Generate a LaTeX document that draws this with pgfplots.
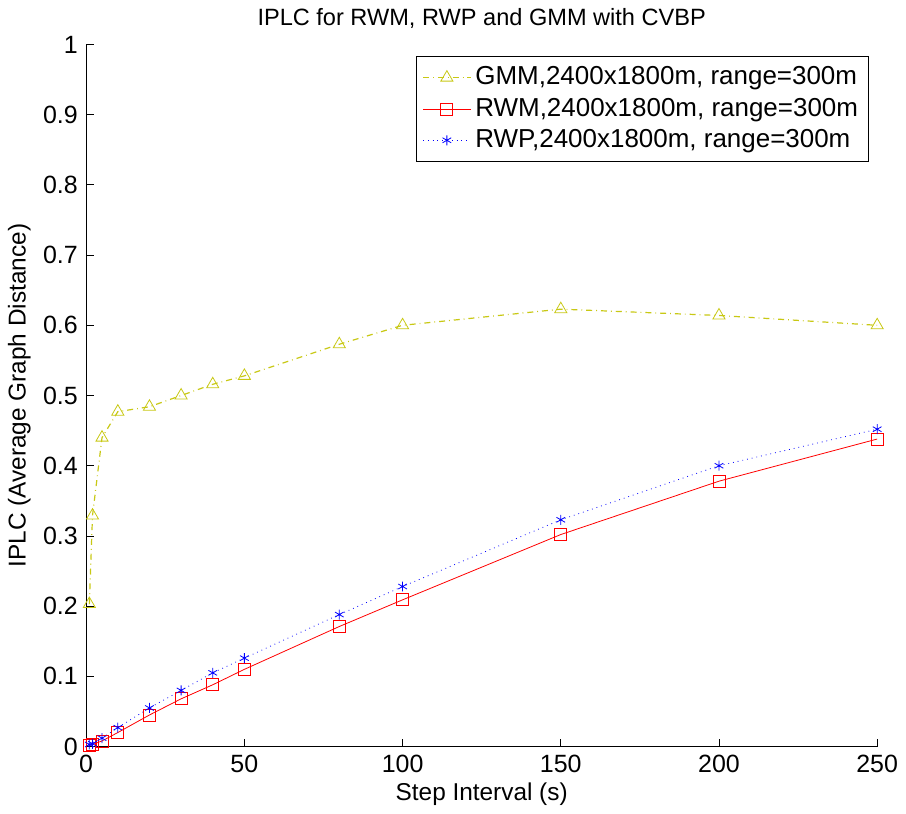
\documentclass[border=0pt]{standalone}
\usepackage{pgfplots}
\pgfplotsset{compat=1.18}
\usepackage{fontspec}
\setmainfont{Liberation Sans}
\definecolor{gmmyel}{RGB}{200,200,20}

\begin{document}
\fontsize{12}{14}\selectfont
\begin{tikzpicture}
\begin{axis}[
  scale only axis,
  width=396pt,height=351.5pt,
  xmin=0,xmax=250,ymin=0,ymax=1,
  xtick={0,50,...,250},
  ytick={0,0.1,...,1},
  axis lines*=left,
  tick align=inside,
  major tick length=4pt,
  every tick/.style={black,thin},
  axis line style={black,thin},
  /pgf/number format/assume math mode=true,
  tick label style={font=\fontsize{12.5}{14}\selectfont},
  title={IPLC for RWM, RWP and GMM with CVBP},
  title style={font=\fontsize{11.8}{13}\selectfont,yshift=-2pt},
  xlabel={Step Interval (s)},
  ylabel={IPLC (Average Graph Distance)},
  label style={font=\fontsize{12.2}{14}\selectfont},
  xlabel style={yshift=3pt},
  ylabel style={yshift=-2pt},
  legend style={at={(0.989,0.983)},anchor=north east,draw=black,thin,
    font=\fontsize{13}{15}\selectfont,row sep=0.8pt,inner sep=3pt},
  legend cell align=left,
  legend image code/.code={
    \draw[mark repeat=2,mark phase=2] plot coordinates {(0cm,0cm) (0.42cm,0cm) (0.84cm,0cm)};},
]
\addplot[gmmyel,dash dot,semithick,mark=triangle,mark size=3.5pt,mark options={solid,thin}] coordinates {
  (1,0.203)(2,0.329)(5,0.440)(10,0.477)(20,0.484)(30,0.500)(40,0.516)
  (50,0.528)(80,0.573)(100,0.600)(150,0.623)(200,0.614)(250,0.600)};
\addplot[red,solid,mark=square,mark size=3pt] coordinates {
  (1,0.002)(2,0.003)(5,0.008)(10,0.020)(20,0.045)(30,0.068)(40,0.088)
  (50,0.110)(80,0.171)(100,0.209)(150,0.302)(200,0.378)(250,0.438)};
\addplot[blue,dotted,mark=asterisk,mark size=2.5pt,mark options={solid}] coordinates {
  (1,0.003)(2,0.004)(5,0.012)(10,0.027)(20,0.055)(30,0.080)(40,0.105)
  (50,0.126)(80,0.188)(100,0.228)(150,0.323)(200,0.400)(250,0.452)};
\legend{{GMM,2400x1800m, range=300m},{RWM,2400x1800m, range=300m},{RWP,2400x1800m, range=300m}}
\end{axis}
\end{tikzpicture}
\end{document}
